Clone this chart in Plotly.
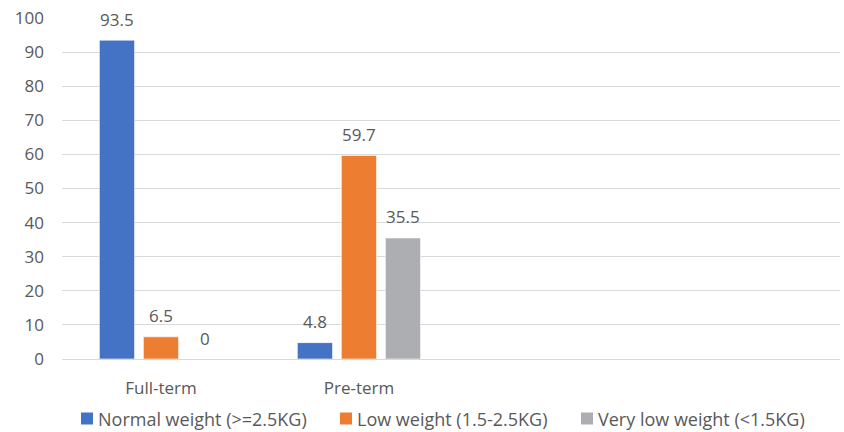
import plotly.graph_objects as go

categories = ["Full-term", "Pre-term"]
series_names = ["Normal weight (>=2.5KG)", "Low weight (1.5-2.5KG)", "Very low weight (<1.5KG)"]
normal_weight = [93.5, 4.8]
low_weight = [6.5, 59.7]
very_low_weight = [0, 35.5]
y_ticks = [0, 10, 20, 30, 40, 50, 60, 70, 80, 90, 100]

colors = ["#4472C4", "#ED7D31", "#ADAEB2"]
text_color = "#595959"
font_family = "Open Sans, Noto Sans, sans-serif"

W, H = 844, 432
margin = dict(l=62, r=4, t=18, b=73)
x_range = [-0.5, 3.43]
bargap = 0.333
plot_w = W - margin["l"] - margin["r"]
plot_h = H - margin["t"] - margin["b"]
cat_px = plot_w / (x_range[1] - x_range[0])
slot_px = cat_px * (1 - bargap) / 3


def paper_x(px):
    return (px - margin["l"]) / plot_w


def paper_y(py):
    return (H - margin["b"] - py) / plot_h


all_series = [normal_weight, low_weight, very_low_weight]

fig = go.Figure()
for name, values, color in zip(series_names, all_series, colors):
    fig.add_trace(go.Bar(
        x=categories,
        y=values,
        name=name,
        showlegend=False,
        marker=dict(color=color, line=dict(color="rgba(255,255,255,0.6)", width=1)),
    ))

# value labels above each bar
annotations = []
for i, values in enumerate(all_series):
    for cat, v in zip(categories, values):
        annotations.append(dict(
            x=cat, y=v, xref="x", yref="y",
            text=f"{v:g}", showarrow=False,
            xshift=(i - 1) * slot_px, yshift=21,
            yanchor="middle", xanchor="center",
            font=dict(size=17, color=text_color, family=font_family),
        ))

# legend row under the axis: colour swatch followed by the series name
shapes = []
legend_swatch_left = [81, 340, 581]
legend_mid_y = 418.5
swatch = 12
for left, name, color in zip(legend_swatch_left, series_names, colors):
    shapes.append(dict(
        type="rect", xref="paper", yref="paper",
        x0=paper_x(left), x1=paper_x(left + swatch),
        y0=paper_y(legend_mid_y + swatch / 2), y1=paper_y(legend_mid_y - swatch / 2),
        fillcolor=color, line=dict(width=0), layer="above",
    ))
    annotations.append(dict(
        x=paper_x(left + swatch + 3), y=paper_y(legend_mid_y),
        xref="paper", yref="paper",
        text=name, showarrow=False,
        xanchor="left", yanchor="middle",
        font=dict(size=18, color=text_color, family=font_family),
    ))

fig.update_layout(
    width=W,
    height=H,
    margin=margin,
    paper_bgcolor="white",
    plot_bgcolor="white",
    barmode="group",
    bargap=bargap,
    bargroupgap=0.2,
    showlegend=False,
    font=dict(family=font_family, size=17, color=text_color),
    annotations=annotations,
    shapes=shapes,
    xaxis=dict(
        type="category",
        range=x_range,
        showgrid=False,
        showline=False,
        ticks="",
        ticklabelstandoff=17,
        tickfont=dict(size=17, color=text_color),
    ),
    yaxis=dict(
        range=[0, 100],
        tickvals=y_ticks,
        showgrid=True,
        gridcolor="#D9D9D9",
        gridwidth=1,
        zeroline=True,
        zerolinecolor="#D9D9D9",
        zerolinewidth=1,
        showline=False,
        ticks="",
        ticklabelstandoff=17,
        tickfont=dict(size=17, color=text_color),
    ),
)

fig.write_html("out.html")
